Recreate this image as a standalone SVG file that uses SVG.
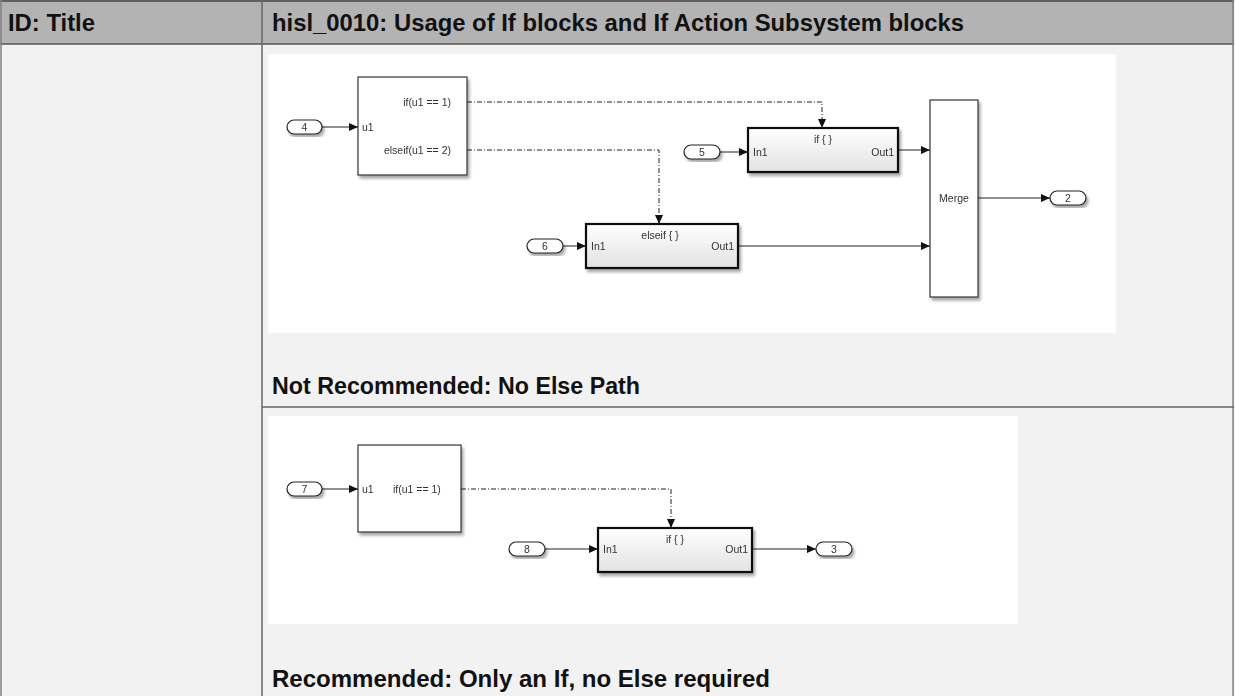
<svg xmlns="http://www.w3.org/2000/svg" width="1235" height="696" viewBox="0 0 1235 696">
<defs>
<style>
.hdr{font-family:"Liberation Sans",Arial,sans-serif;font-weight:bold;font-size:23px;fill:#111}
.cap{font-family:"Liberation Sans",Arial,sans-serif;font-weight:bold;font-size:23px;fill:#111}
.lbl{font-family:"Liberation Sans",Arial,sans-serif;font-size:10.5px;fill:#333}
.blk{fill:#fff;stroke:#333;stroke-width:1.2}
.sub{fill:url(#g);stroke:#111;stroke-width:2.2}
.port{fill:#fff;stroke:#222;stroke-width:1.2}
.sig{fill:none;stroke:#222;stroke-width:1}
.act{fill:none;stroke:#222;stroke-width:1;stroke-dasharray:5 2 1 2}
</style>
<linearGradient id="g" x1="0" y1="0" x2="0" y2="1">
<stop offset="0" stop-color="#ffffff"/>
<stop offset="1" stop-color="#e2e2e2"/>
</linearGradient>
<filter id="sh" x="-10%" y="-10%" width="130%" height="130%">
<feGaussianBlur in="SourceAlpha" stdDeviation="1.5"/>
<feOffset dx="2" dy="3" result="b"/>
<feComponentTransfer><feFuncA type="linear" slope="0.35"/></feComponentTransfer>
<feMerge><feMergeNode/><feMergeNode in="SourceGraphic"/></feMerge>
</filter>
<marker id="ar" markerWidth="9" markerHeight="8" refX="9" refY="4" orient="auto" markerUnits="userSpaceOnUse">
<path d="M0,0 L9,4 L0,8 Z" fill="#111"/>
</marker>
</defs>

<!-- table -->
<g id="table">
<rect x="0" y="0" width="1235" height="696" fill="#f2f2f2"/>
<rect x="0" y="0" width="1234" height="44" fill="#b3b3b3"/>
<line x1="0" y1="1" x2="1234" y2="1" stroke="#444" stroke-width="1.5"/>
<line x1="0" y1="44" x2="1234" y2="44" stroke="#555" stroke-width="1.5"/>
<line x1="1" y1="0" x2="1" y2="696" stroke="#808080" stroke-width="1.5"/>
<line x1="262" y1="0" x2="262" y2="696" stroke="#666" stroke-width="1.5"/>
<line x1="1233" y1="0" x2="1233" y2="696" stroke="#808080" stroke-width="1.5"/>
<line x1="262" y1="407" x2="1234" y2="407" stroke="#666" stroke-width="1.5"/>
<text class="hdr" x="8" y="31" textLength="87" lengthAdjust="spacingAndGlyphs">ID: Title</text>
<text class="hdr" x="272" y="31" textLength="692" lengthAdjust="spacingAndGlyphs">hisl_0010: Usage of If blocks and If Action Subsystem blocks</text>
<rect x="268" y="54" width="848" height="279" fill="#fff"/>
<rect x="268" y="416" width="750" height="208" fill="#fff"/>
<text class="cap" x="272" y="394" textLength="368" lengthAdjust="spacingAndGlyphs">Not Recommended: No Else Path</text>
<text class="cap" x="272" y="687" textLength="498" lengthAdjust="spacingAndGlyphs">Recommended: Only an If, no Else required</text>
</g>

<!-- connectors -->
<g id="connectors">
<line class="sig" x1="322" y1="127" x2="358" y2="127" marker-end="url(#ar)"/>
<polyline class="act" points="467,102 822,102 822,128" marker-end="url(#ar)"/>
<polyline class="act" points="467,150 659,150 659,224" marker-end="url(#ar)"/>
<line class="sig" x1="720" y1="152" x2="748" y2="152" marker-end="url(#ar)"/>
<line class="sig" x1="898" y1="150" x2="930" y2="150" marker-end="url(#ar)"/>
<line class="sig" x1="563" y1="246" x2="586" y2="246" marker-end="url(#ar)"/>
<line class="sig" x1="738" y1="246" x2="930" y2="246" marker-end="url(#ar)"/>
<line class="sig" x1="978" y1="198" x2="1050" y2="198" marker-end="url(#ar)"/>
<line class="sig" x1="322" y1="489" x2="358" y2="489" marker-end="url(#ar)"/>
<polyline class="act" points="461,489 671,489 671,528" marker-end="url(#ar)"/>
<line class="sig" x1="545" y1="549" x2="598" y2="549" marker-end="url(#ar)"/>
<line class="sig" x1="752" y1="549" x2="816" y2="549" marker-end="url(#ar)"/>
</g>

<!-- diagram 1 -->
<g id="in4" filter="url(#sh)">
<rect class="port" x="287" y="120" width="35" height="14" rx="7"/>
<text class="lbl" x="304.5" y="131" text-anchor="middle">4</text>
</g>
<g id="if1" filter="url(#sh)">
<rect class="blk" x="358" y="77" width="109" height="98"/>
<text class="lbl" x="362" y="131">u1</text>
<text class="lbl" x="451" y="106" text-anchor="end">if(u1 == 1)</text>
<text class="lbl" x="451" y="154" text-anchor="end">elseif(u1 == 2)</text>
</g>
<g id="in5" filter="url(#sh)">
<rect class="port" x="684" y="145" width="36" height="14" rx="7"/>
<text class="lbl" x="702" y="156" text-anchor="middle">5</text>
</g>
<g id="ifsub1" filter="url(#sh)">
<rect class="sub" x="748" y="128" width="150" height="44"/>
<text class="lbl" x="823" y="143" text-anchor="middle">if { }</text>
<text class="lbl" x="753" y="156">In1</text>
<text class="lbl" x="894" y="156" text-anchor="end">Out1</text>
</g>
<g id="merge" filter="url(#sh)">
<rect class="blk" x="930" y="100" width="48" height="197"/>
<text class="lbl" x="954" y="202" text-anchor="middle">Merge</text>
</g>
<g id="out2" filter="url(#sh)">
<rect class="port" x="1050" y="191" width="36" height="14" rx="7"/>
<text class="lbl" x="1068" y="202" text-anchor="middle">2</text>
</g>
<g id="in6" filter="url(#sh)">
<rect class="port" x="527" y="239" width="36" height="14" rx="7"/>
<text class="lbl" x="545" y="250" text-anchor="middle">6</text>
</g>
<g id="elseifsub" filter="url(#sh)">
<rect class="sub" x="586" y="224" width="152" height="44"/>
<text class="lbl" x="660" y="239" text-anchor="middle">elseif { }</text>
<text class="lbl" x="591" y="250">In1</text>
<text class="lbl" x="734" y="250" text-anchor="end">Out1</text>
</g>

<!-- diagram 2 -->
<g id="in7" filter="url(#sh)">
<rect class="port" x="287" y="482" width="35" height="14" rx="7"/>
<text class="lbl" x="304.5" y="493" text-anchor="middle">7</text>
</g>
<g id="if2" filter="url(#sh)">
<rect class="blk" x="358" y="445" width="103" height="87"/>
<text class="lbl" x="362" y="493">u1</text>
<text class="lbl" x="393" y="493">if(u1 == 1)</text>
</g>
<g id="in8" filter="url(#sh)">
<rect class="port" x="509" y="542" width="36" height="14" rx="7"/>
<text class="lbl" x="527" y="553" text-anchor="middle">8</text>
</g>
<g id="ifsub2" filter="url(#sh)">
<rect class="sub" x="598" y="528" width="154" height="44"/>
<text class="lbl" x="675" y="543" text-anchor="middle">if { }</text>
<text class="lbl" x="603" y="553">In1</text>
<text class="lbl" x="748" y="553" text-anchor="end">Out1</text>
</g>
<g id="out3" filter="url(#sh)">
<rect class="port" x="816" y="542" width="36" height="14" rx="7"/>
<text class="lbl" x="834" y="553" text-anchor="middle">3</text>
</g>
</svg>
